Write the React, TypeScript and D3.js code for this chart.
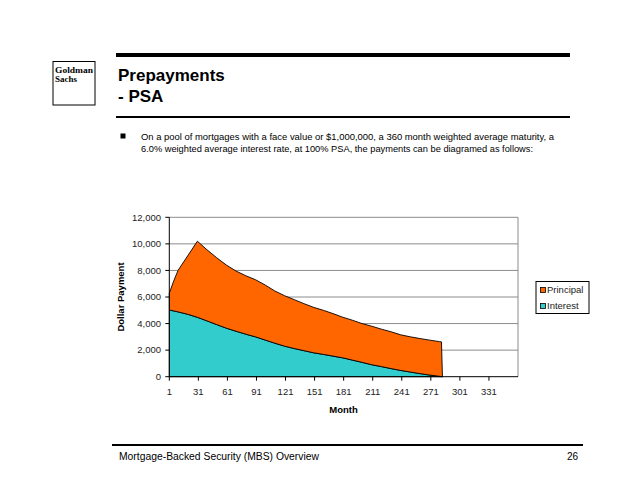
import React from "react";
import * as d3 from "d3";

const months = [1, 5, 10, 20, 30, 40, 50, 60, 70, 80, 90, 100, 110, 120, 130, 140, 150, 160, 170, 180, 190, 200, 210, 220, 230, 240, 250, 260, 270, 280, 282, 283];
const interest = [5020, 4960, 4880, 4700, 4470, 4200, 3920, 3650, 3420, 3200, 3000, 2760, 2520, 2300, 2120, 1960, 1800, 1680, 1550, 1420, 1250, 1080, 900, 760, 610, 470, 350, 230, 120, 30, 10, 0];
const principal = [1260, 2140, 3120, 4400, 5730, 5350, 5030, 4750, 4530, 4400, 4300, 4140, 3930, 3800, 3680, 3540, 3420, 3320, 3200, 3060, 3000, 2920, 2900, 2820, 2770, 2680, 2650, 2640, 2630, 2610, 2610, 0];
const seriesNames = ["Interest", "Principal"];
const seriesColors = ["#33CCCC", "#FF6600"];
const yTicks = [0, 2000, 4000, 6000, 8000, 10000, 12000];
const xTicks = [1, 31, 61, 91, 121, 151, 181, 211, 241, 271, 301, 331];

const FONT = "'Liberation Sans', Arial, sans-serif";

export default function App() {
  const x = d3.scaleLinear().domain([1, 361]).range([169.3, 518]);
  const y = d3.scaleLinear().domain([0, 12000]).range([376.7, 217.3]);
  const rows = months.map((m, i) => ({ month: m, Interest: interest[i], Principal: principal[i] }));
  const stacked = d3.stack<any>().keys(seriesNames)(rows);
  const area = d3
    .area<any>()
    .x((d) => x(d.data.month))
    .y0((d) => y(d[0]))
    .y1((d) => y(d[1]));
  const fmt = d3.format(",");
  const [x0, x1] = x.range();
  const [yb, yt] = y.range();

  return (
    <svg width={638} height={493} style={{ position: "absolute", left: 0, top: 0, background: "#fff" }} fontFamily={FONT}>
      <rect width={638} height={493} fill="#fff" />
      {/* Logo */}
      <rect x={53} y={61.5} width={42} height={43.5} fill="#fff" stroke="#000" strokeWidth={1} />
      <text x={55} y={72.5} fontFamily="'Liberation Serif', 'DejaVu Serif', serif" fontWeight="bold" fontSize={8.5} textLength={38} lengthAdjust="spacingAndGlyphs">Goldman</text>
      <text x={55} y={82} fontFamily="'Liberation Serif', 'DejaVu Serif', serif" fontWeight="bold" fontSize={8.5} textLength={22} lengthAdjust="spacingAndGlyphs">Sachs</text>
      {/* Header lines & title */}
      <rect x={116} y={53} width={454} height={4} fill="#000" />
      <text x={118} y={81} fontSize={17} fontWeight="bold">Prepayments</text>
      <text x={118} y={102} fontSize={17} fontWeight="bold">- PSA</text>
      <rect x={116} y={116} width={454} height={2} fill="#000" />
      {/* Bullet */}
      <rect x={120.5} y={133.5} width={5} height={5} fill="#000" />
      <text x={141} y={139.5} fontSize={9.3} textLength={413} lengthAdjust="spacingAndGlyphs">On a pool of mortgages with a face value or $1,000,000, a 360 month weighted average maturity, a</text>
      <text x={141} y={151.5} fontSize={9.3} textLength={392} lengthAdjust="spacingAndGlyphs">6.0% weighted average interest rate, at 100% PSA, the payments can be diagramed as follows:</text>

      {/* Plot gridlines */}
      {yTicks.filter((t) => t > 0).map((t) => (
        <line key={t} x1={x0} x2={x1} y1={y(t)} y2={y(t)} stroke="#8c8c8c" strokeWidth={1} />
      ))}
      <line x1={x1} x2={x1} y1={yt} y2={yb} stroke="#8c8c8c" strokeWidth={1} />
      {/* Areas */}
      {stacked.map((s, i) => (
        <path key={s.key} d={area(s as any) || ""} fill={seriesColors[i]} stroke="#000" strokeWidth={0.9} strokeLinejoin="round" />
      ))}
      {/* Axes */}
      <line x1={x0} x2={x0} y1={yt} y2={yb} stroke="#000" strokeWidth={1} />
      <line x1={x0} x2={x1} y1={yb} y2={yb} stroke="#000" strokeWidth={1} />
      {yTicks.map((t) => (
        <g key={t}>
          <line x1={x0 - 4} x2={x0} y1={y(t)} y2={y(t)} stroke="#000" />
          <text x={161} y={y(t)} dy="0.35em" textAnchor="end" fontSize={9.5} fill="#222">{fmt(t)}</text>
        </g>
      ))}
      {xTicks.map((t) => (
        <g key={t}>
          <line x1={x(t)} x2={x(t)} y1={yb} y2={yb + 4} stroke="#000" />
          <text x={x(t)} y={395} textAnchor="middle" fontSize={9.5} fill="#222">{t}</text>
        </g>
      ))}
      <text x={343.5} y={413} textAnchor="middle" fontSize={9.5} fontWeight="bold">Month</text>
      <text transform={`translate(124,297) rotate(-90)`} textAnchor="middle" fontSize={9.5} fontWeight="bold">Dollar Payment</text>

      {/* Legend */}
      <rect x={536} y={281.5} width={53} height={32} fill="#fff" stroke="#000" strokeWidth={1} />
      {["Principal", "Interest"].map((n, i) => (
        <g key={n}>
          <rect x={540.5} y={287.5 + i * 16} width={5} height={5} fill={seriesColors[seriesNames.indexOf(n)]} stroke="#000" strokeWidth={0.8} />
          <text x={547} y={290 + i * 16} dy="0.35em" fontSize={9.5} fill="#222">{n}</text>
        </g>
      ))}

      {/* Footer */}
      <rect x={112} y={444} width={471} height={2} fill="#000" />
      <text x={119} y={460} fontSize={10} textLength={200} lengthAdjust="spacingAndGlyphs">Mortgage-Backed Security (MBS) Overview</text>
      <text x={578} y={460} fontSize={10} textAnchor="end">26</text>
    </svg>
  );
}
